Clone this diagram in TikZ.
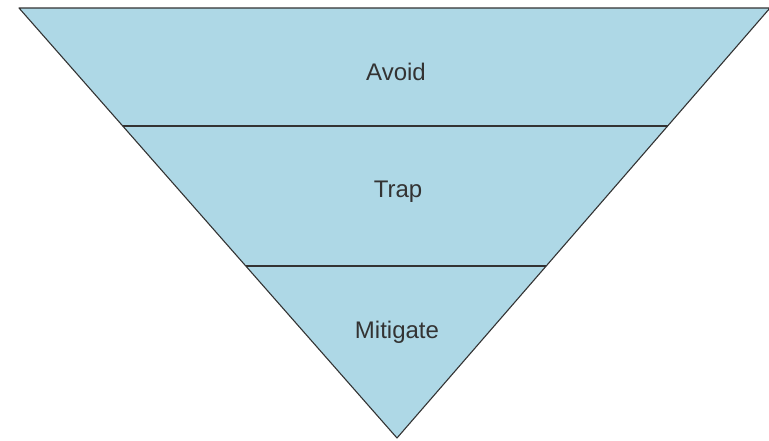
\documentclass[tikz,border=0pt]{standalone}
\usepackage{fontspec}
\setmainfont{Liberation Sans}
\usepackage{tikz}
\usetikzlibrary{calc}
\usepackage{xcolor}
\definecolor{tierfill}{HTML}{AED8E6}
\definecolor{tierline}{HTML}{333333}

\begin{document}
\begin{tikzpicture}[x=1pt,y=-1pt,line join=round,
  tier/.style={fill=tierfill,draw=tierline,line width=1.1pt},
  tierlabel/.style={anchor=base,text=tierline,font=\fontsize{24}{28}\selectfont}]
\useasboundingbox (0,0) rectangle (769,440);
\begin{scope}
\clip (0,0) rectangle (769,440);
\coordinate (tl) at (19,8);
\coordinate (tr) at (770,8);
\coordinate (apex) at (397,438);
\draw[tier] (tl) -- (tr) -- (apex) -- cycle;
% tier boundaries on the two sides
\coordinate (l1) at ($(tl)!0.2744!(apex)$);
\coordinate (r1) at ($(tr)!0.2744!(apex)$);
\coordinate (l2) at ($(tl)!0.6!(apex)$);
\coordinate (r2) at ($(tr)!0.6!(apex)$);
\draw[tierline,line width=1.1pt] (l1) -- (r1);
\draw[tierline,line width=1.1pt] (l2) -- (r2);
\end{scope}
\node[tierlabel] (avoid) at (396,80) {Avoid};
\node[tierlabel] (trap) at (398,197.5) {Trap};
\node[tierlabel] (mitigate) at (397,338) {Mitigate};
\end{tikzpicture}
\end{document}
